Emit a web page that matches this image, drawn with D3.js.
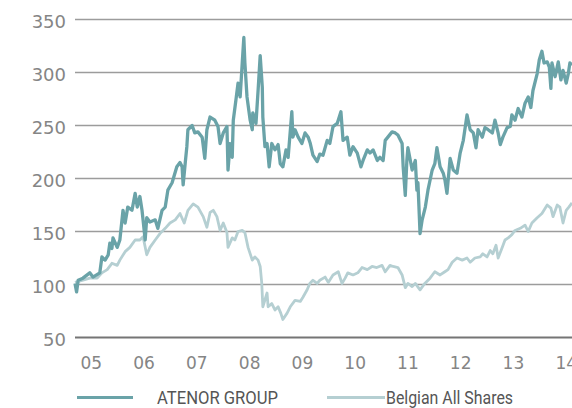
<!DOCTYPE html>
<meta charset="utf-8">
<style>
body { margin: 0; background: #fff; }
.grid line { stroke: #9c9c9c; stroke-width: 1.5px; }
.axis text { font-family: "DejaVu Sans", sans-serif; fill: #858585; }
.legend text { font-family: Roboto, sans-serif; fill: #555; font-size: 19px; }
</style>
<svg width="572" height="408"></svg>
<script src="https://d3js.org/d3.v7.min.js"></script>
<script>

// decimal year, index value (base 100)
var atenor = [
  [2005.19,101],[2005.22,93],[2005.25,104],[2005.34,106],[2005.47,111],[2005.53,107],
  [2005.66,111],[2005.70,126],[2005.76,123],[2005.82,128],[2005.85,139],[2005.89,134],
  [2005.91,144],[2005.99,135],[2006.04,142],[2006.10,170],[2006.14,158],[2006.19,173],
  [2006.27,170],[2006.33,186],[2006.37,173],[2006.42,183],[2006.46,170],[2006.48,161],
  [2006.52,142],[2006.55,163],[2006.61,159],[2006.71,161],[2006.76,153],[2006.84,170],
  [2006.90,173],[2006.95,189],[2007.03,196],[2007.12,211],[2007.18,215],[2007.22,211],
  [2007.24,194],[2007.28,215],[2007.31,230],[2007.33,246],[2007.41,250],[2007.46,243],
  [2007.52,244],[2007.60,239],[2007.65,219],[2007.69,246],[2007.75,258],[2007.84,255],
  [2007.90,249],[2007.94,233],[2008.00,243],[2008.07,249],[2008.09,208],[2008.13,233],
  [2008.17,220],[2008.19,255],[2008.24,274],[2008.28,290],[2008.32,277],[2008.36,309],
  [2008.39,333],[2008.41,309],[2008.45,277],[2008.51,255],[2008.55,246],[2008.56,262],
  [2008.62,252],[2008.66,283],[2008.70,316],[2008.74,286],[2008.75,258],[2008.79,230],
  [2008.83,233],[2008.87,211],[2008.92,233],[2008.98,227],[2009.04,232],[2009.08,214],
  [2009.13,211],[2009.19,227],[2009.23,220],[2009.30,263],[2009.32,239],[2009.36,246],
  [2009.42,239],[2009.49,233],[2009.55,243],[2009.61,239],[2009.65,233],[2009.70,222],
  [2009.78,216],[2009.83,223],[2009.89,222],[2009.97,236],[2010.02,233],[2010.08,249],
  [2010.16,252],[2010.23,263],[2010.27,236],[2010.35,239],[2010.40,222],[2010.46,230],
  [2010.54,224],[2010.61,211],[2010.65,217],[2010.73,227],[2010.78,224],[2010.84,227],
  [2010.92,217],[2010.97,220],[2011.03,217],[2011.07,236],[2011.12,239],[2011.20,244],
  [2011.26,243],[2011.31,241],[2011.39,233],[2011.41,211],[2011.45,184],[2011.48,217],
  [2011.50,229],[2011.58,208],[2011.64,217],[2011.67,189],[2011.69,196],[2011.73,148],
  [2011.77,161],[2011.83,173],[2011.88,189],[2011.96,208],[2012.01,214],[2012.05,229],
  [2012.11,211],[2012.17,205],[2012.20,199],[2012.24,186],[2012.30,219],[2012.36,208],
  [2012.43,205],[2012.49,224],[2012.55,236],[2012.62,260],[2012.68,246],[2012.74,243],
  [2012.79,229],[2012.83,246],[2012.91,239],[2012.96,248],[2013.02,246],[2013.10,243],
  [2013.15,255],[2013.21,243],[2013.25,232],[2013.30,239],[2013.38,248],[2013.44,249],
  [2013.47,260],[2013.53,255],[2013.59,266],[2013.66,258],[2013.72,271],[2013.78,277],
  [2013.83,267],[2013.87,283],[2013.95,299],[2013.99,312],[2014.04,320],[2014.08,309],
  [2014.14,310],[2014.18,305],[2014.21,285],[2014.23,309],[2014.29,296],[2014.35,310],
  [2014.40,293],[2014.44,302],[2014.50,290],[2014.54,299],[2014.57,309],[2014.61,307]
];

var belgian = [
  [2005.19,102],[2005.34,104],[2005.47,106],[2005.61,106],[2005.70,111],[2005.80,114],
  [2005.89,120],[2005.99,118],[2006.04,123],[2006.14,131],[2006.23,135],[2006.33,142],
  [2006.42,142],[2006.48,145],[2006.55,128],[2006.61,135],[2006.71,142],[2006.80,148],
  [2006.90,153],[2006.99,158],[2007.09,161],[2007.18,167],[2007.26,158],[2007.33,170],
  [2007.43,176],[2007.52,173],[2007.62,164],[2007.69,154],[2007.75,168],[2007.81,170],
  [2007.88,164],[2007.94,151],[2008.00,158],[2008.07,149],[2008.09,135],[2008.17,144],
  [2008.22,142],[2008.28,150],[2008.36,151],[2008.41,149],[2008.47,135],[2008.55,123],
  [2008.60,126],[2008.66,123],[2008.70,117],[2008.73,101],[2008.75,79],[2008.83,92],
  [2008.85,79],[2008.92,82],[2008.98,76],[2009.04,79],[2009.09,73],[2009.13,67],
  [2009.21,73],[2009.27,79],[2009.36,85],[2009.46,84],[2009.51,88],[2009.59,95],
  [2009.64,101],[2009.70,104],[2009.78,101],[2009.83,104],[2009.93,107],[2009.99,102],
  [2010.08,109],[2010.18,112],[2010.25,101],[2010.31,106],[2010.36,111],[2010.46,109],
  [2010.55,111],[2010.63,116],[2010.73,114],[2010.82,117],[2010.91,116],[2011.01,118],
  [2011.07,112],[2011.16,118],[2011.22,117],[2011.31,116],[2011.39,109],[2011.45,97],
  [2011.50,101],[2011.58,98],[2011.64,101],[2011.73,95],[2011.82,101],[2011.92,106],
  [2012.01,112],[2012.11,109],[2012.20,112],[2012.26,114],[2012.34,121],[2012.43,125],
  [2012.53,123],[2012.62,125],[2012.68,121],[2012.77,125],[2012.87,126],[2012.92,129],
  [2013.00,126],[2013.06,132],[2013.11,129],[2013.17,137],[2013.21,125],[2013.28,134],
  [2013.34,142],[2013.40,144],[2013.47,147],[2013.53,151],[2013.63,153],[2013.72,156],
  [2013.78,150],[2013.85,158],[2013.95,163],[2014.04,167],[2014.14,175],[2014.21,172],
  [2014.25,164],[2014.33,175],[2014.38,173],[2014.44,158],[2014.50,170],[2014.55,173],
  [2014.61,177]
];

var yTicks = [50, 100, 150, 200, 250, 300, 350];
var yearTicks = [2005, 2006, 2007, 2008, 2009, 2010, 2011, 2012, 2013, 2014];
var yearLabels = ["05", "06", "07", "08", "09", "10", "11", "12", "13", "14"];

var svg = d3.select("svg");

var x = d3.scaleLinear().domain([2005.19, 2014.61]).range([75, 572]);
var y = d3.scaleLinear().domain([50, 350]).range([337.5, 19.5]);

// horizontal grid
svg.append("g")
  .attr("class", "grid")
  .selectAll("line")
  .data(yTicks)
  .enter().append("line")
  .attr("x1", 75)
  .attr("x2", 572)
  .attr("y1", function(d) { return y(d); })
  .attr("y2", function(d) { return y(d); })
  .style("stroke", function(d) { return d === 50 ? "#757575" : null; })
  .style("stroke-width", function(d) { return d === 50 ? "2px" : null; });

// y labels
svg.append("g")
  .attr("class", "axis")
  .selectAll("text")
  .data(yTicks)
  .enter().append("text")
  .attr("x", 66)
  .attr("y", function(d) { return y(d) + 8.5; })
  .attr("text-anchor", "end")
  .style("font-size", "18px")
  .text(function(d) { return d; });

// x labels, centred in each year (the last one runs off the edge, as in the print)
svg.append("g")
  .attr("class", "axis")
  .selectAll("text")
  .data(yearTicks)
  .enter().append("text")
  .attr("x", function(d) { return x(d + 0.5); })
  .attr("y", 368.5)
  .attr("text-anchor", "middle")
  .style("font-size", "17px")
  .text(function(d, i) { return yearLabels[i]; });

var line = d3.line()
  .x(function(d) { return x(d[0]); })
  .y(function(d) { return y(d[1]); });

svg.append("path")
  .datum(belgian)
  .attr("fill", "none")
  .attr("stroke", "#b5cfd2")
  .attr("stroke-width", 2.8)
  .attr("stroke-linejoin", "round")
  .attr("d", line);

svg.append("path")
  .datum(atenor)
  .attr("fill", "none")
  .attr("stroke", "#6aa3a8")
  .attr("stroke-width", 3.3)
  .attr("stroke-linejoin", "round")
  .attr("d", line);

// legend
var legend = svg.append("g").attr("class", "legend");

legend.append("line")
  .attr("x1", 77).attr("x2", 133)
  .attr("y1", 397.5).attr("y2", 397.5)
  .attr("stroke", "#6aa3a8").attr("stroke-width", 3);
legend.append("text")
  .attr("x", 157).attr("y", 403.5)
  .attr("textLength", 121).attr("lengthAdjust", "spacingAndGlyphs")
  .text("ATENOR GROUP");

legend.append("line")
  .attr("x1", 327).attr("x2", 385)
  .attr("y1", 397.5).attr("y2", 397.5)
  .attr("stroke", "#b5cfd2").attr("stroke-width", 3);
legend.append("text")
  .attr("x", 386).attr("y", 403.5)
  .attr("textLength", 127).attr("lengthAdjust", "spacingAndGlyphs")
  .text("Belgian All Shares");

</script>
